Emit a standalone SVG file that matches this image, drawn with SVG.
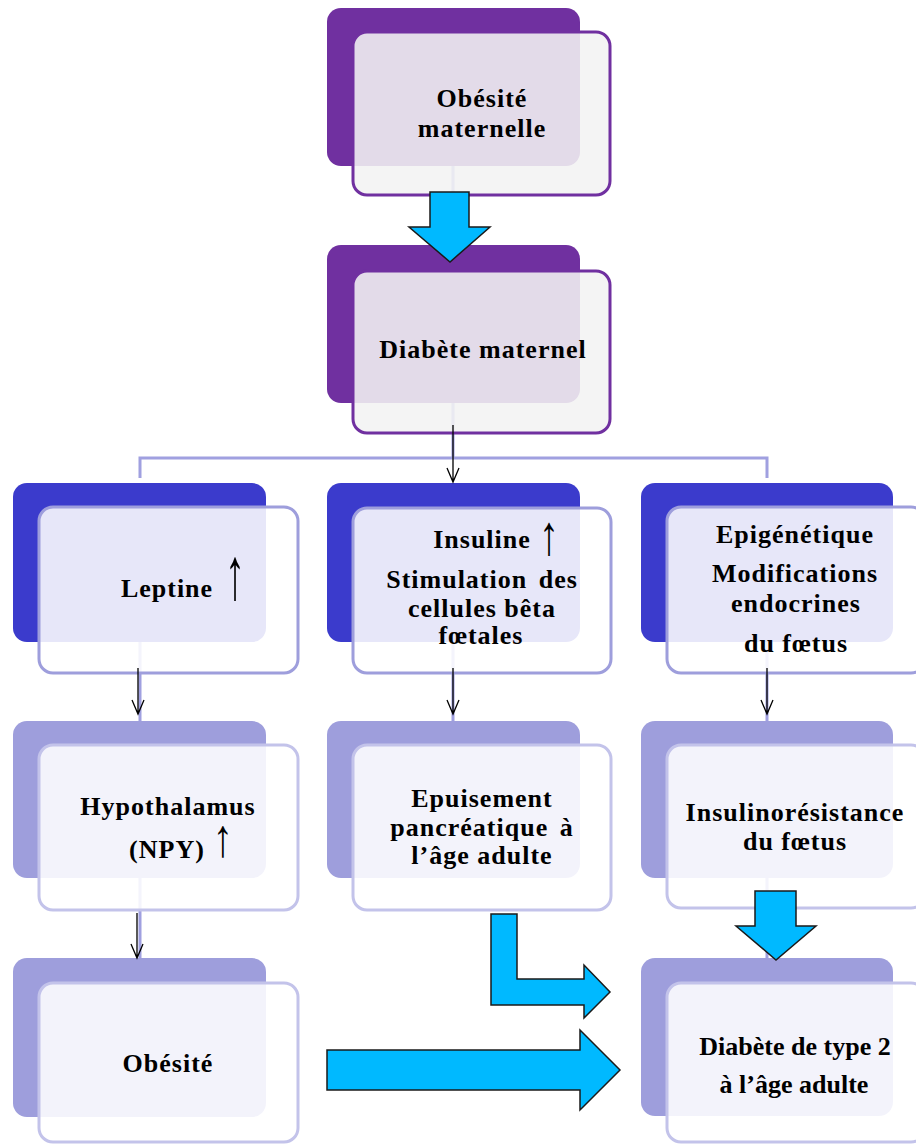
<svg xmlns="http://www.w3.org/2000/svg" width="916" height="1144" viewBox="0 0 916 1144">
<style>
.t{font-family:"Liberation Serif","Times New Roman",serif;font-weight:bold;font-size:26px;letter-spacing:1px;text-anchor:middle;fill:#000}
.t2{font-family:"Liberation Serif","Times New Roman",serif;font-weight:bold;font-size:26px;text-anchor:middle;fill:#000}
.up{font-family:"Liberation Serif","DejaVu Serif",serif;font-size:40px;text-anchor:middle;fill:#000}
.bp{fill:#7030A0}
.fp{fill:#f2f2f2;fill-opacity:.88;stroke:#7030A0;stroke-width:3}
.bb{fill:#3B3BCC}
.fb{fill:#fff;fill-opacity:.88;stroke:#9E9EDC;stroke-width:3}
.bl{fill:#9E9EDC}
.fl{fill:#fff;fill-opacity:.88;stroke:#C3C3EA;stroke-width:3}
.lc{fill:none;stroke:#A0A0E0;stroke-width:3}
.ar{fill:none;stroke:#000;stroke-width:1.3}
.big{fill:#00B9FF;stroke:#1a1a1a;stroke-width:1.5;stroke-linejoin:miter}
</style>
<rect width="916" height="1144" fill="#fff"/>
<g id="links">
<path class="lc" d="M453 166V245M453 403V458M140 478V458H767V478M140 642V721M453 642V721M767 642V721M140 878V958M767 878V958"/>
</g>
<g id="n1"><rect class="bp" x="327" y="8" width="253" height="158" rx="14"/><rect class="fp" x="353" y="32" width="257" height="163" rx="14"/>
<text class="t" x="482" y="107">Obésité</text><text class="t" x="482" y="137">maternelle</text></g>
<g id="n2"><rect class="bp" x="327" y="245" width="253" height="158" rx="14"/><rect class="fp" x="353" y="271" width="257" height="162" rx="14"/>
<text class="t" x="483" y="358">Diabète maternel</text></g>
<g id="n3"><rect class="bb" x="13" y="483" width="253" height="159" rx="14"/><rect class="fb" x="39" y="507" width="259" height="166" rx="14"/>
<text class="t" x="167" y="597">Leptine</text><text class="up" transform="translate(235 599) scale(1 1.85)">↑</text></g>
<g id="n4"><rect class="bb" x="327" y="483" width="253" height="159" rx="14"/><rect class="fb" x="353" y="508" width="258" height="165" rx="14"/>
<text class="t" x="482" y="548">Insuline</text><text class="up" transform="translate(549 554) scale(1 1.4)">↑</text>
<text class="t" x="482" y="588" word-spacing="4">Stimulation des</text><text class="t" x="482" y="617">cellules bêta</text><text class="t" x="481" y="644">fœtales</text></g>
<g id="n5"><rect class="bb" x="641" y="483" width="252" height="159" rx="14"/><rect class="fb" x="667" y="507" width="258" height="166" rx="14"/>
<text class="t" x="795" y="543">Epigénétique</text><text class="t" x="795" y="582">Modifications</text><text class="t" x="796" y="612">endocrines</text><text class="t" x="796" y="652">du fœtus</text></g>
<g id="n6"><rect class="bl" x="13" y="721" width="253" height="157" rx="14"/><rect class="fl" x="39" y="745" width="259" height="165" rx="14"/>
<text class="t" x="168" y="815">Hypothalamus</text><text class="t" x="167" y="858">(NPY)</text><text class="up" transform="translate(223 856) scale(1 1.35)">↑</text></g>
<g id="n7"><rect class="bl" x="327" y="721" width="253" height="157" rx="14"/><rect class="fl" x="353" y="745" width="258" height="165" rx="14"/>
<text class="t" x="482" y="807">Epuisement</text><text class="t" x="482" y="836" word-spacing="4">pancréatique à</text><text class="t" x="482" y="864">l’âge adulte</text></g>
<g id="n8"><rect class="bl" x="641" y="721" width="252" height="157" rx="14"/><rect class="fl" x="667" y="745" width="258" height="163" rx="14"/>
<text class="t" x="795" y="821">Insulinorésistance</text><text class="t" x="795" y="850">du fœtus</text></g>
<g id="n9"><rect class="bl" x="13" y="958" width="253" height="159" rx="14"/><rect class="fl" x="39" y="983" width="259" height="159" rx="14"/>
<text class="t" x="168" y="1072">Obésité</text></g>
<g id="n10"><rect class="bl" x="641" y="958" width="252" height="158" rx="14"/><rect class="fl" x="667" y="983" width="258" height="159" rx="14"/>
<text class="t2" x="795" y="1055">Diabète de type 2</text><text class="t2" x="794" y="1093">à l’âge adulte</text></g>
<g id="arrows">
<path class="ar" d="M453 425V482M447 468L453 482L459 468"/>
<path class="ar" d="M138 668V714M132 700L138 714L144 700"/>
<path class="ar" d="M453 668V714M447 700L453 714L459 700"/>
<path class="ar" d="M767 668V714M761 700L767 714L773 700"/>
<path class="ar" d="M137 913V958M131 944L137 958L143 944"/>
<polygon class="big" points="430,192 469,192 469,227 490,227 450,262 409,227 430,227"/>
<polygon class="big" points="755,891 796,891 796,926 816,926 776,960 736,926 755,926"/>
<polygon class="big" points="491,914 517,914 517,979 584,979 584,965 610,992 584,1018 584,1005 491,1005"/>
<polygon class="big" points="327,1050 580,1050 580,1030 620,1070 580,1110 580,1090 327,1090"/>
</g>
</svg>
